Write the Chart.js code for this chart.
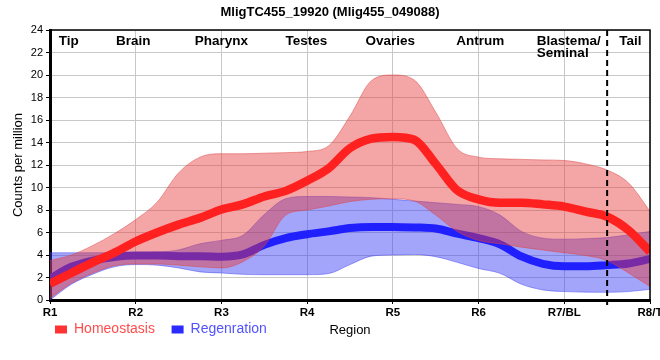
<!DOCTYPE html>
<html>
<head>
<meta charset="utf-8">
<script src="https://cdn.jsdelivr.net/npm/chart.js@4.4.1/dist/chart.umd.min.js"></script>
<style>
  html, body { margin: 0; padding: 0; background: #fff; overflow: hidden; }
  #wrap { width: 660px; height: 360px; }
</style>
</head>
<body>
<div id="wrap"><canvas id="chart"></canvas></div>
<script>
// positions along the body, 1 = R1 ... 8 = R8/T
const X = [1, 1.25, 1.5, 1.75, 2, 2.25, 2.5, 2.75, 3, 3.25, 3.5, 3.75, 4, 4.25, 4.5,
           4.75, 5, 5.25, 5.5, 5.75, 6, 6.25, 6.5, 6.75, 7, 7.25, 7.5, 7.75, 8];
const X_LABELS = ['R1', 'R2', 'R3', 'R4', 'R5', 'R6', 'R7/BL', 'R8/T'];

// Homeostasis (mean and band)
const HOMEO_MEAN = [1.45, 2.4, 3.35, 4.2, 5.2, 6.0, 6.7, 7.3, 8.05, 8.5, 9.2, 9.7, 10.6, 11.7, 13.5,
                    14.35, 14.5, 14.25, 12.1, 9.75, 8.95, 8.65, 8.65, 8.5, 8.3, 7.85, 7.4, 6.2, 4.3];
const HOMEO_HI = [3.5, 4.0, 4.85, 5.9, 7.15, 8.7, 11.3, 12.7, 13.0, 13.0, 13.05, 13.1, 13.2, 13.7, 16.35,
                  19.5, 20.0, 19.55, 16.7, 13.45, 12.7, 12.55, 12.5, 12.45, 12.4, 12.1, 11.55, 10.4, 7.9];
const HOMEO_LO = [0.15, 1.5, 2.4, 3.05, 3.2, 3.2, 3.1, 2.95, 2.85, 3.4, 4.8, 7.55, 8.0, 8.35, 8.75,
                  8.95, 9.0, 8.8, 7.55, 6.1, 5.3, 5.0, 4.7, 4.45, 4.2, 3.95, 3.5, 2.4, 1.2];

// Regeneration (mean and band)
const REGEN_MEAN = [1.9, 2.95, 3.5, 3.82, 3.95, 3.95, 3.9, 3.9, 3.85, 4.05, 4.9, 5.5, 5.85, 6.1, 6.4,
                    6.5, 6.5, 6.45, 6.35, 5.9, 5.5, 4.95, 3.87, 3.22, 3.0, 3.0, 3.1, 3.25, 3.65];
const REGEN_HI = [4.2, 4.2, 4.2, 4.2, 4.2, 4.25, 4.45, 5.0, 5.3, 5.75, 7.6, 9.0, 9.2, 9.2, 9.15,
                  9.1, 8.95, 8.8, 8.65, 8.5, 8.3, 7.55, 6.1, 5.5, 5.4, 5.45, 5.55, 5.8, 6.1];
const REGEN_LO = [0, 1.4, 2.3, 2.95, 3.15, 3.1, 2.85, 2.5, 2.4, 2.28, 2.25, 2.25, 2.25, 2.35, 3.15,
                  3.9, 4.0, 4.05, 3.85, 3.35, 2.8, 2.37, 1.4, 0.9, 0.75, 0.7, 0.68, 0.75, 0.95];

// tissue names across the top
const SECTIONS = ['Tip', 'Brain', 'Pharynx', 'Testes', 'Ovaries', 'Antrum', 'Blastema/\nSeminal', 'Tail'];
const SECTION_AT = [1.22, 1.97, 3.0, 3.99, 4.97, 6.02, 6.68, 7.77];
const BOUNDARY = 7.5;

const SANS = '"Liberation Sans", Arial, sans-serif';

const pts = arr => X.map((x, i) => ({ x: x, y: arr[i] }));

function band(arr, fill, color, line, order) {
  return {
    data: pts(arr),
    borderColor: line,
    borderWidth: 1,
    backgroundColor: color,
    fill: fill,
    order: order
  };
}

const decor = {
  id: 'decor',
  afterDatasetsDraw(chart) {
    const { ctx, chartArea: a } = chart;
    const x = chart.scales.x;
    ctx.save();
    // frame top + right
    ctx.strokeStyle = '#000';
    ctx.lineWidth = 1.5;
    ctx.beginPath();
    ctx.moveTo(a.left, a.top);
    ctx.lineTo(a.right, a.top);
    ctx.lineTo(a.right, a.bottom);
    ctx.stroke();
    // blastema / tail boundary
    const bx = x.getPixelForValue(BOUNDARY);
    ctx.setLineDash([6, 4]);
    ctx.lineWidth = 2;
    ctx.beginPath();
    ctx.moveTo(bx, a.top);
    ctx.lineTo(bx, a.bottom + 5);
    ctx.stroke();
    ctx.setLineDash([]);
    // section labels
    ctx.fillStyle = '#000';
    ctx.font = 'bold 13.5px ' + SANS;
    ctx.textBaseline = 'middle';
    SECTIONS.forEach((name, i) => {
      const lines = name.split('\n');
      const px = x.getPixelForValue(SECTION_AT[i]);
      ctx.textAlign = lines.length > 1 ? 'left' : 'center';
      lines.forEach((ln, j) => ctx.fillText(ln, px, a.top + 11 + j * 12.5));
    });
    ctx.restore();
  }
};

new Chart(document.getElementById('chart'), {
  type: 'line',
  data: {
    datasets: [
      { label: 'Homeostasis', data: pts(HOMEO_MEAN), borderColor: '#ff2020', borderWidth: 8.5, fill: false, order: 0 },
      band(HOMEO_HI, '+1', 'rgba(230, 56, 56, 0.45)', 'rgba(220, 70, 70, 0.5)', 1),
      band(HOMEO_LO, false, 'rgba(230, 56, 56, 0.45)', 'rgba(220, 70, 70, 0.5)', 1),
      { label: 'Regenration', data: pts(REGEN_MEAN), borderColor: '#2020ff', borderWidth: 8, fill: false, order: 2 },
      band(REGEN_HI, '+1', 'rgba(50, 55, 245, 0.45)', 'rgba(60, 60, 240, 0.45)', 3),
      band(REGEN_LO, false, 'rgba(50, 55, 245, 0.45)', 'rgba(60, 60, 240, 0.45)', 3)
    ]
  },
  options: {
    responsive: true,
    maintainAspectRatio: false,
    animation: false,
    layout: { padding: { top: 0, left: 0, right: 0, bottom: 13.5 } },
    elements: {
      point: { radius: 0, hoverRadius: 0 },
      line: { cubicInterpolationMode: 'monotone', borderCapStyle: 'butt' }
    },
    scales: {
      x: {
        type: 'linear',
        min: 1,
        max: 8,
        border: { color: '#000', width: 3 },
        grid: { color: '#c8c8c8', tickLength: 4, tickColor: '#000' },
        ticks: {
          stepSize: 1,
          autoSkip: false,
          maxRotation: 0,
          padding: 2,
          color: '#000',
          font: { family: SANS, size: 11.5, weight: 'bold' },
          callback: v => Number.isInteger(v) ? X_LABELS[v - 1] : ''
        },
        title: {
          display: true,
          text: 'Region',
          color: '#000',
          font: { family: SANS, size: 13 },
          padding: { top: 0, bottom: -20.3 }
        },
        afterFit: s => { s.height = 17.5; s.paddingRight = 10; s.paddingLeft = 0; }
      },
      y: {
        min: 0,
        max: 24,
        border: { color: '#000', width: 3 },
        grid: { color: '#c8c8c8', tickLength: 4, tickColor: '#000' },
        ticks: { stepSize: 2, padding: 3, color: '#000', font: { family: SANS, size: 11 } },
        title: {
          display: true,
          text: 'Counts per million',
          color: '#000',
          font: { family: SANS, size: 13 },
          padding: { top: 11, bottom: 0 }
        },
        afterFit: s => { s.width = 50; }
      }
    },
    plugins: {
      title: {
        display: true,
        text: 'MligTC455_19920 (Mlig455_049088)',
        color: '#000',
        font: { family: SANS, size: 13, weight: 'bold' },
        padding: { top: 4.7, bottom: 9.7 }
      },
      legend: {
        position: 'bottom',
        align: 'start',
        fullSize: false,
        onClick: null,
        labels: {
          boxWidth: 12,
          boxHeight: 8,
          padding: 5,
          font: { family: SANS, size: 14 },
          generateLabels: () => [
            { text: 'Homeostasis\u00a0\u00a0\u00a0', fillStyle: '#ff3333', strokeStyle: '#ff3333', lineWidth: 0,
              fontColor: '#ff4d4d', hidden: false, datasetIndex: 0 },
            { text: 'Regenration', fillStyle: '#2b2bff', strokeStyle: '#2b2bff', lineWidth: 0,
              fontColor: '#5252ff', hidden: false, datasetIndex: 3 }
          ]
        }
      },
      tooltip: { enabled: false }
    }
  },
  plugins: [decor]
});
</script>
</body>
</html>
